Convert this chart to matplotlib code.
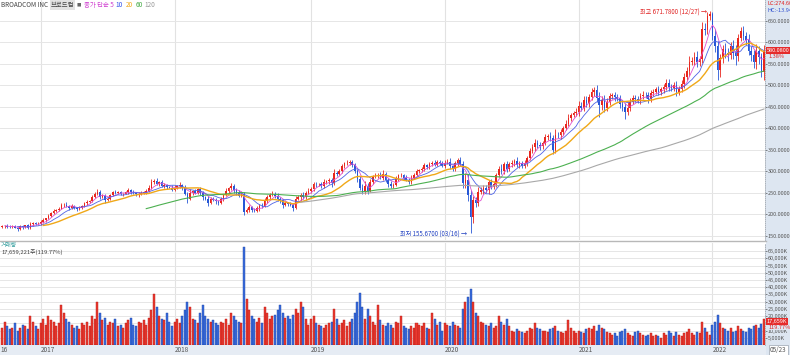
import numpy as np
import pandas as pd
import matplotlib
matplotlib.use('Agg')
import matplotlib.pyplot as plt
from matplotlib.patches import Rectangle
from matplotlib.lines import Line2D
import matplotlib.transforms as mtransforms

plt.rcParams['font.family'] = ['Noto Sans CJK KR', 'DejaVu Sans']

# 주봉 데이터 (2016-09-19 ~ 2022-05-23), 종가
pre_close = [174, 176, 170]  # 화면 왼쪽 밖 (이동평균 계산용)
close_2016 = [172, 173, 171, 170, 172, 169, 166, 172, 170, 174, 168, 177, 179, 177, 177]
close_2017 = [183, 186, 190, 196, 203, 208, 210, 213, 221, 222, 219, 215, 219,
              215, 211, 214, 219, 225, 229, 231, 240, 248, 251, 240, 243, 233,
              236, 245, 251, 250, 251, 247, 248, 251, 256, 252, 249, 246, 247,
              250, 252, 254, 262, 275, 277, 270, 274, 265, 268, 263, 262, 257]
close_2018 = [262, 265, 268, 262, 248, 236, 250, 253, 250, 258, 250, 240, 236,
              227, 236, 234, 230, 226, 235, 245, 254, 260, 266, 256, 250, 243,
              246, 205, 210, 216, 210, 208, 214, 220, 219, 230, 240, 245, 247,
              243, 235, 232, 222, 225, 223, 222, 215, 236, 240, 245, 240, 250, 255]
close_2019 = [258, 271, 270, 270, 265, 275, 277, 280, 272, 296, 293, 300,
              312, 318, 320, 322, 314, 300, 282, 262, 252, 266, 255, 276, 288,
              290, 292, 284, 294, 280, 271, 265, 268, 283, 290, 291, 285, 280, 276,
              285, 291, 300, 302, 305, 314, 310, 316, 320, 315, 322, 320, 313]
close_2020 = [320, 322, 311, 305, 318, 326, 316, 272, 280, 245, 193, 232, 226,
              252, 256, 260, 256, 274, 264, 270, 291, 306, 300, 316, 305, 316,
              320, 324, 314, 318, 313, 320, 330, 348, 356, 366, 360, 358, 366,
              380, 382, 376, 350, 385, 383, 390, 400, 410, 424, 430, 435, 438]
close_2021 = [452, 448, 465, 458, 472, 484, 488, 470, 455, 465, 448, 462, 474,
              476, 472, 470, 456, 450, 438, 448, 462, 470, 468, 465, 474, 478,
              476, 468, 482, 485, 490, 484, 490, 495, 505, 496, 494, 500, 484,
              490, 502, 520, 532, 555, 556, 566, 555, 560, 630, 628, 660, 665]
close_2022 = [615, 590, 535, 562, 585, 575, 570, 590, 575, 568, 610, 625, 615,
              605, 580, 570, 555, 580, 565, 530, 580.08]

# 윗꼬리 / 아래꼬리 길이
up_2016 = [3, 2, 4, 3, 2, 3, 2, 3, 4, 2, 3, 5, 2, 3, 4]
dn_2016 = [2, 3, 3, 2, 3, 2, 4, 3, 5, 2, 3, 2, 4, 3, 2]
up_2017 = [3, 4, 2, 5, 3, 4, 2, 3, 5, 3, 6, 2, 4, 3, 2, 4, 3, 4, 3, 2, 5, 4, 8, 6, 3, 4,
           3, 2, 4, 5, 3, 4, 2, 3, 4, 3, 5, 2, 4, 3, 2, 4, 5, 7, 4, 6, 3, 5, 4, 3, 2, 5]
dn_2017 = [2, 3, 4, 2, 3, 2, 4, 3, 2, 4, 3, 5, 2, 3, 4, 2, 3, 2, 3, 4, 2, 3, 3, 5, 2, 6,
           3, 4, 2, 3, 4, 3, 5, 2, 3, 4, 2, 3, 5, 2, 3, 4, 2, 3, 5, 3, 4, 2, 3, 5, 2, 4]
up_2018 = [5, 4, 6, 3, 5, 4, 8, 3, 5, 4, 6, 5, 3, 6, 4, 5, 3, 4, 5, 3, 6, 4, 7, 5, 4, 6,
           3, 5, 4, 6, 3, 4, 5, 3, 6, 8, 4, 5, 6, 4, 7, 5, 3, 6, 4, 5, 3, 6, 5, 4, 7, 3, 6]
dn_2018 = [4, 3, 5, 6, 4, 9, 3, 5, 4, 3, 5, 6, 4, 7, 3, 4, 6, 5, 3, 4, 3, 5, 4, 6, 5, 3,
           4, 6, 3, 5, 4, 3, 4, 6, 5, 3, 5, 4, 3, 5, 4, 6, 7, 3, 5, 4, 8, 3, 4, 9, 5, 4, 3]
up_2019 = [6, 4, 5, 3, 4, 6, 3, 5, 4, 8, 5, 6, 5, 4, 7, 4, 5, 4, 5, 6, 8, 12, 6, 5, 4,
           6, 4, 5, 8, 4, 5, 7, 4, 6, 4, 5, 3, 6, 4, 5, 4, 6, 3, 4, 5, 3, 6, 4, 6, 3, 5, 4]
dn_2019 = [5, 3, 6, 4, 5, 3, 4, 6, 8, 4, 5, 3, 4, 5, 3, 6, 4, 5, 7, 6, 5, 6, 8, 4, 5,
           4, 5, 3, 4, 6, 7, 5, 4, 3, 5, 4, 6, 3, 5, 6, 4, 3, 5, 3, 4, 5, 4, 5, 3, 4, 6, 4]
up_2020 = [5, 6, 8, 4, 6, 5, 7, 8, 15, 14, 12, 10, 8, 12, 8, 7, 9, 6, 8, 7, 5, 6, 10, 5,
           8, 6, 7, 5, 9, 6, 5, 7, 6, 5, 8, 9, 6, 8, 5, 7, 5, 9, 8, 12, 6, 7, 5, 8, 9, 6, 5, 8]
dn_2020 = [6, 4, 7, 5, 4, 6, 5, 10, 12, 15, 37.33, 14, 10, 8, 6, 9, 7, 8, 5, 6, 7, 5, 7,
           6, 8, 5, 6, 8, 5, 7, 6, 5, 7, 4, 6, 8, 7, 9, 6, 5, 8, 6, 10, 7, 5, 8, 6, 5, 6, 8, 5, 7]
up_2021 = [12, 8, 10, 9, 8, 10, 7, 12, 14, 9, 12, 8, 7, 6, 9, 8, 7, 10, 8, 12, 7, 6, 8, 6,
           7, 9, 6, 8, 7, 6, 5, 8, 6, 7, 9, 10, 6, 8, 9, 7, 9, 8, 10, 12, 9, 11, 13, 8, 16, 14, 10, 6.78]
dn_2021 = [10, 8, 7, 9, 8, 6, 9, 10, 30, 12, 10, 9, 8, 7, 9, 6, 10, 9, 16, 8, 7, 6, 8, 7,
           9, 6, 7, 9, 6, 8, 6, 8, 7, 9, 6, 9, 8, 7, 10, 8, 6, 9, 7, 10, 8, 9, 12, 11, 9, 12, 10, 8]
up_2022 = [4, 15, 12, 10, 9, 14, 12, 10, 15, 18, 8, 10, 12, 9, 14, 10, 12, 15, 12, 10, 14]
dn_2022 = [10, 12, 23, 15, 10, 12, 14, 9, 15, 20, 12, 8, 10, 12, 9, 14, 16, 18, 15, 12, 18]

# 거래량 (백만주)
vol_2016 = [12, 16, 13, 11, 12, 15, 10, 12, 14, 13, 11, 20, 16, 13, 11]
vol_2017 = [15, 18, 14, 20, 17, 16, 13, 15, 28, 22, 18, 16, 14, 12, 13, 11, 15, 14, 16,
            13, 20, 18, 30, 22, 17, 19, 14, 16, 15, 18, 13, 14, 12, 15, 17, 19, 14, 13,
            16, 15, 17, 14, 19, 24, 35, 26, 20, 18, 17, 22, 16, 13]
vol_2018 = [16, 18, 15, 20, 24, 30, 26, 18, 17, 15, 22, 28, 20, 18, 16, 17, 15, 14, 16,
            15, 18, 14, 22, 20, 17, 16, 15, 68, 32, 24, 20, 18, 16, 19, 15, 26, 22, 18,
            20, 21, 24, 28, 22, 19, 20, 18, 21, 25, 22, 30, 26, 18, 14]
vol_2019 = [18, 20, 15, 14, 13, 12, 14, 15, 16, 25, 18, 14, 15, 17, 13, 16, 18, 22, 30,
            36, 26, 18, 25, 20, 16, 14, 28, 17, 14, 13, 15, 14, 12, 16, 15, 20, 13, 12,
            11, 13, 12, 15, 14, 13, 15, 12, 11, 22, 18, 14, 16, 10]
vol_2020 = [15, 14, 13, 16, 14, 13, 12, 25, 30, 33, 39, 30, 22, 20, 16, 15, 14, 13, 15,
            12, 13, 20, 16, 14, 18, 13, 10, 9, 11, 10, 9, 8, 10, 12, 11, 15, 12, 11, 10,
            10, 9, 11, 12, 13, 10, 9, 8, 10, 17, 12, 10, 8]
vol_2021 = [10, 9, 8, 11, 12, 11, 13, 10, 14, 12, 11, 9, 8, 7, 8, 6, 9, 10, 11, 8, 7, 6,
            9, 10, 8, 7, 6, 7, 8, 6, 7, 6, 5, 8, 7, 10, 8, 6, 9, 7, 6, 8, 9, 11, 8, 7, 9,
            8, 16, 12, 9, 7]
vol_2022 = [14, 16, 21, 15, 12, 11, 10, 12, 9, 10, 13, 11, 10, 9, 12, 11, 13, 14, 12,
            14.744, 17.659221]

ma_windows = [5, 10, 20, 60, 120]
ma_colors = ['#e050d0', '#4f63e6', '#f0a818', '#4cb050', '#a8a8a8']
ma_widths = [0.6, 0.6, 1.0, 0.8, 0.8]

RED = '#e8261e'
BLUE = '#2657d6'

visible = close_2016 + close_2017 + close_2018 + close_2019 + close_2020 + close_2021 + close_2022
full = np.array(pre_close + visible, dtype=float)
n_pre = len(pre_close)
c = full[n_pre:]
o = full[n_pre - 1:-1]
up_w = np.array(up_2016 + up_2017 + up_2018 + up_2019 + up_2020 + up_2021 + up_2022, dtype=float)
dn_w = np.array(dn_2016 + dn_2017 + dn_2018 + dn_2019 + dn_2020 + dn_2021 + dn_2022, dtype=float)
# 천주 단위
vol = np.array(vol_2016 + vol_2017 + vol_2018 + vol_2019 + vol_2020 + vol_2021 + vol_2022) * 1000
hi = np.maximum(o, c) + up_w
lo = np.minimum(o, c) - dn_w

dates = pd.date_range('2016-09-19', periods=len(c), freq='W-MON')
x = np.arange(len(c))
year_idx = [i for i in range(1, len(dates)) if dates[i].year != dates[i - 1].year]

W, H = 790, 355
fig = plt.figure(figsize=(7.9, 3.55), dpi=100)
fig.patch.set_facecolor('white')
fig.patches.append(Rectangle((766 / W, 0), 1 - 766 / W, 1, transform=fig.transFigure,
                             facecolor='#dde6f1', edgecolor='none', zorder=-5))
fig.patches.append(Rectangle((0, 0), 766 / W, 10 / H, transform=fig.transFigure,
                             facecolor='#e6ecf4', edgecolor='none', zorder=-5))

ax = fig.add_axes([0, 1 - 240 / H, 765 / W, 240 / H])
axv = fig.add_axes([0, 1 - 345 / H, 765 / W, 102 / H])

xlim = (-0.82, 296.4)
for a in (ax, axv):
    a.set_xlim(*xlim)
    a.set_xticks([])
    for s in ['top', 'left', 'bottom']:
        a.spines[s].set_visible(False)
    a.spines['right'].set_linestyle((0, (1, 1.5)))
    a.spines['right'].set_color('#9aa4b0')
    a.spines['right'].set_linewidth(0.6)
    a.yaxis.tick_right()
    a.tick_params(axis='y', labelsize=4.0, colors='#555555', length=1.5, width=0.5, pad=0.5)
    for yi in year_idx:
        a.axvline(yi, color='#e2e2e2', lw=0.8, zorder=0)

# 가격 패널
ax.set_ylim(140, 698)
ax.set_yticks(range(150, 651, 50))
ax.set_yticklabels([f'{v}.0000' for v in range(150, 651, 50)])
ax.grid(axis='y', color='#e6e6e6', lw=0.7, zorder=0)

isup = c >= o
cols = np.where(isup, RED, BLUE)
ax.vlines(x, lo, hi, colors=cols, lw=0.6, zorder=2)
ax.bar(x, np.maximum(np.abs(c - o), 0.8), bottom=np.minimum(o, c), width=0.62,
       color=cols, lw=0, zorder=2)

ser = pd.Series(full)
for w, col, lw in zip(ma_windows, ma_colors, ma_widths):
    ma = ser.rolling(w).mean().values[n_pre:]
    ax.plot(x, ma, color=col, lw=lw, zorder=3)

i_hi = int(np.argmax(hi))
i_lo = int(np.argmin(lo))
ax.text(i_hi - 1.2, hi[i_hi], f'최고 {hi[i_hi]:.4f} ({dates[i_hi]:%m/%d}) →',
        ha='right', va='center', color='#e02020', fontsize=4.4, zorder=5)
ax.text(i_lo - 1.2, lo[i_lo], f'최저 {lo[i_lo]:.4f} ({dates[i_lo]:%m/%d}) →',
        ha='right', va='center', color='#2040c0', fontsize=4.4, zorder=5)

trans = mtransforms.blended_transform_factory(ax.transAxes, ax.transData)
ax.text(1.002, c[-1], f'{c[-1]:.4f}', transform=trans, ha='left', va='center',
        fontsize=4.0, color='white', zorder=6, clip_on=False,
        bbox=dict(boxstyle='square,pad=0.15', fc='#e52b2b', ec='none'))
ax.text(1.004, c[-1] - 14, '1.38%', transform=trans, ha='left', va='center',
        fontsize=4.0, color='#e02020', clip_on=False, zorder=6,
        bbox=dict(boxstyle='square,pad=0.05', fc='#dde6f1', ec='none'))

# 거래량 패널
axv.set_ylim(0, 70600)
vt = list(range(5000, 65001, 5000))
axv.set_yticks(vt)
axv.set_yticklabels(['' if v == 15000 else f'{v:,}K' for v in vt])
axv.grid(axis='y', color='#e6e6e6', lw=0.7, zorder=0)
axv.bar(x, vol, width=0.78, color=np.where(isup, '#ea3a30', '#3a6ddc'),
        edgecolor=np.where(isup, '#b81a14', '#1f45a8'), lw=0.3, zorder=2)

ratio = vol[-1] / vol[-2] * 100
transv = mtransforms.blended_transform_factory(axv.transAxes, axv.transData)
axv.text(1.002, vol[-1] - 1200, f'{vol[-1]:,.0f}K', transform=transv, ha='left', va='center',
         fontsize=4.0, color='white', zorder=6, clip_on=False,
         bbox=dict(boxstyle='square,pad=0.15', fc='#e52b2b', ec='none'))
axv.text(1.004, vol[-1] - 5600, f'{ratio:.2f}%', transform=transv,
         ha='left', va='center', fontsize=4.0, color='#e02020', clip_on=False, zorder=6,
         bbox=dict(boxstyle='square,pad=0.05', fc='#dde6f1', ec='none'))

# 패널 구분선
fig.add_artist(Line2D([0, 766 / W], [1 - 241 / H] * 2, color='#b8b8b8', lw=1.0))


def px(xp, yp):
    return xp / W, 1 - yp / H


# 상단 범례 (순서대로 이어 붙이기)
renderer = fig.canvas.get_renderer()
legend_parts = [('BROADCOM INC', '#444444', None), ('브로드컴', '#444444', '#e2e2e2'),
                ('■', '#666666', None), ('종가 단순 5', '#d040d0', None), ('10', '#3050e8', None),
                ('20', '#f0a818', None), ('60', '#40a840', None), ('120', '#999999', None)]
xp = 1.0
for txt, col, bg in legend_parts:
    kw = dict(fontsize=4.6 if txt != '■' else 3.2, color=col, va='center')
    if bg:
        kw['bbox'] = dict(boxstyle='square,pad=0.1', fc=bg, ec='none')
    t = fig.text(*px(xp, 5), txt, **kw)
    bb = t.get_window_extent(renderer)
    xp += bb.width + 2.5

fig.text(*px(767, 3.5), 'LC:274.60%', fontsize=4.0, color='#e02020', va='center')
fig.text(*px(767, 10), 'HC:-13.94%', fontsize=4.0, color='#3050d0', va='center')

fig.text(*px(1, 245.5), '거래량', fontsize=4.2, color='#2a9a9a', va='center')
fig.text(*px(1, 252.5), f'{round(vol[-1] * 1000):,}주({ratio:.2f}%)',
         fontsize=4.2, color='#444444', va='center')

# 날짜 축
fig.text(*px(0, 350), '16', fontsize=4.6, color='#555555', va='center')
for yi in year_idx:
    xpos = ax.transData.transform((yi, 0))[0]
    fig.text(*px(xpos, 350), str(dates[yi].year), fontsize=4.6, color='#555555', va='center')
fig.text(*px(770, 350), f'{dates[-1]:%m/%d}', fontsize=4.6, color='#555555', va='center',
         bbox=dict(boxstyle='square,pad=0.2', fc='white', ec='#9aa4b0', lw=0.5))

fig.savefig('out.png', dpi=100, facecolor='white')
